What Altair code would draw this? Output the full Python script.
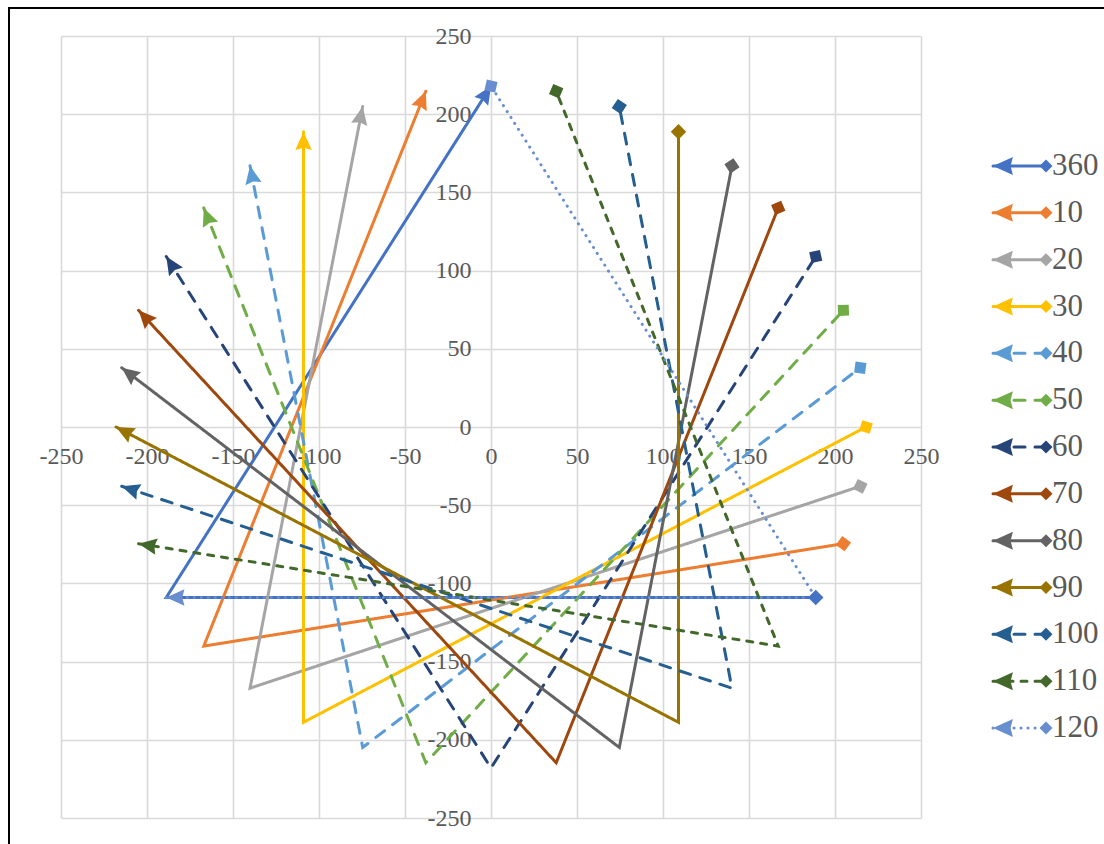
import math

import altair as alt
import pandas as pd

# Series names, colours and line styles
SERIES = ["360", "10", "20", "30", "40", "50", "60", "70", "80", "90", "100", "110", "120"]
COLORS = ["#4472C4", "#ED7D31", "#A5A5A5", "#FFC000", "#5B9BD5", "#70AD47", "#264478",
          "#9E480E", "#636363", "#997300", "#255E91", "#43682B", "#698ED0"]
STYLES = ["solid", "solid", "solid", "solid", "dash", "dash", "dash",
          "solid", "solid", "solid", "dash", "short", "dot"]

# Each series is an open triangle path: start (arrow) -> corner -> end (diamond)
PATH_X = [
    [0.0, -188.8, 188.8],
    [-37.9, -167.0, 204.9],
    [-74.6, -140.1, 214.7],
    [-109.0, -109.0, 218.0],
    [-140.1, -74.6, 214.7],
    [-167.0, -37.9, 204.9],
    [-188.8, 0.0, 188.8],
    [-204.9, 37.9, 167.0],
    [-214.7, 74.6, 140.1],
    [-218.0, 109.0, 109.0],
    [-214.7, 140.1, 74.6],
    [-204.9, 167.0, 37.9],
    [-188.8, 188.8, 0.0],
]
PATH_Y = [
    [218.0, -109.0, -109.0],
    [214.7, -140.1, -74.6],
    [204.9, -167.0, -37.9],
    [188.8, -188.8, 0.0],
    [167.0, -204.9, 37.9],
    [140.1, -214.7, 74.6],
    [109.0, -218.0, 109.0],
    [74.6, -214.7, 140.1],
    [37.9, -204.9, 167.0],
    [0.0, -188.8, 188.8],
    [-37.9, -167.0, 204.9],
    [-74.6, -140.1, 214.7],
    [-109.0, -109.0, 218.0],
]

TICKS = [-250, -200, -150, -100, -50, 0, 50, 100, 150, 200, 250]

W, H = 860, 782
PAD = {"left": 61, "top": 36, "right": 183, "bottom": 26}
SX = W / (TICKS[-1] - TICKS[0])
SY = H / (TICKS[-1] - TICKS[0])

LINE_W = 3
DASHES = {"solid": [1, 0], "dash": [11, 10], "short": [6, 8], "dot": [0.1, 6.9]}
DASH_RANGE = [DASHES[s] for s in STYLES]

# Arrowhead with its tip at the origin, pointing up (rotated by the angle channel)
ARROW = "M0,0L0.95,2.1L0,1.85L-0.95,2.1Z"
FONT = "Liberation Serif"
TEXT_COLOR = "#595959"


def heading(x0, y0, x1, y1):
    """Screen heading (clockwise from up, degrees) of the segment p0 -> p1."""
    return math.degrees(math.atan2((x1 - x0) * SX, (y1 - y0) * SY)) % 360


line_rows, arrow_rows, diamond_rows, legend_rows = [], [], [], []
for name, xs, ys in zip(SERIES, PATH_X, PATH_Y):
    for step, (x, y) in enumerate(zip(xs, ys)):
        line_rows.append({"series": name, "step": step, "x": x, "y": y})
    arrow_rows.append({"series": name, "x": xs[0], "y": ys[0],
                       "angle": heading(xs[1], ys[1], xs[0], ys[0])})
    diamond_rows.append({"series": name, "x": xs[2], "y": ys[2],
                         "angle": heading(xs[1], ys[1], xs[2], ys[2])})
    for lx in (0, 1):
        legend_rows.append({"series": name, "lx": lx})

lines_df = pd.DataFrame(line_rows)
arrows_df = pd.DataFrame(arrow_rows)
diamonds_df = pd.DataFrame(diamond_rows)
legend_df = pd.DataFrame(legend_rows)

color = alt.Color("series:N", scale=alt.Scale(domain=SERIES, range=COLORS), legend=None)
dash = alt.StrokeDash("series:N", scale=alt.Scale(domain=SERIES, range=DASH_RANGE), legend=None)

axis_common = dict(
    values=TICKS, grid=True, gridColor="#d9d9d9", gridWidth=1.6, domain=False,
    ticks=False, tickSize=0, labelFont=FONT, labelFontSize=24, labelColor=TEXT_COLOR,
    labelExpr="'' + datum.value", labelFlush=False, labelOverlap=False, title=None,
)
x_enc = alt.X("x:Q", scale=alt.Scale(domain=[-250, 250], nice=False),
              axis=alt.Axis(orient="bottom", offset=-H / 2, labelPadding=17, **axis_common))
y_enc = alt.Y("y:Q", scale=alt.Scale(domain=[-250, 250], nice=False),
              axis=alt.Axis(orient="left", offset=-W / 2, labelPadding=20, **axis_common))

lines = alt.Chart(lines_df).mark_line(
    strokeWidth=LINE_W, strokeCap="round", strokeJoin="miter"
).encode(x=x_enc, y=y_enc, color=color, strokeDash=dash, order=alt.Order("step:Q"))

arrows = alt.Chart(arrows_df).mark_point(
    shape=ARROW, filled=True, size=300, opacity=1, strokeWidth=0
).encode(x=x_enc, y=y_enc, color=color, angle=alt.Angle("angle:Q", scale=None))

diamonds = alt.Chart(diamonds_df).mark_point(
    shape="diamond", filled=True, size=240, opacity=1, strokeWidth=0
).encode(x=x_enc, y=y_enc, color=color, angle=alt.Angle("angle:Q", scale=None))

plot = alt.layer(lines, arrows, diamonds)

# Legend: one row per series, arrow on the left, diamond on the right, name after it
lx_enc = alt.X("lx:Q", scale=alt.Scale(domain=[0, 1], range=[932, 985]), axis=None)
ly_enc = alt.Y("series:N", scale=alt.Scale(type="point", domain=SERIES, range=[130, 692], padding=0),
               axis=None)

leg_lines = alt.Chart(legend_df).mark_line(
    strokeWidth=LINE_W, strokeCap="round"
).encode(x=lx_enc, y=ly_enc, color=color, strokeDash=dash, order=alt.Order("lx:Q"))

leg_arrows = alt.Chart(legend_df).transform_filter("datum.lx == 0").mark_point(
    shape=ARROW, filled=True, size=360, opacity=1, strokeWidth=0, angle=270
).encode(x=lx_enc, y=ly_enc, color=color)

leg_diamonds = alt.Chart(legend_df).transform_filter("datum.lx == 1").mark_point(
    shape="diamond", filled=True, size=170, opacity=1, strokeWidth=0
).encode(x=lx_enc, y=ly_enc, color=color)

leg_text = alt.Chart(legend_df).transform_filter("datum.lx == 1").mark_text(
    align="left", baseline="middle", dx=6, font=FONT, fontSize=31, color=TEXT_COLOR
).encode(x=lx_enc, y=ly_enc, text="series:N")

legend = alt.layer(leg_lines, leg_arrows, leg_diamonds, leg_text)

# Outer chart frame
frame = alt.Chart(alt.Data(values=[{"k": 1}])).mark_rect(
    fillOpacity=0, stroke="black", strokeWidth=2
).encode(x=alt.value(-52), y=alt.value(-28), x2=alt.value(1200), y2=alt.value(1000))

chart = alt.layer(plot, legend, frame).resolve_scale(
    x="independent", y="independent"
).properties(
    width=W, height=H, padding=PAD, autosize=alt.AutoSizeParams(type="none"),
    background="white",
).configure_view(strokeWidth=0)

chart.save("out.html", embed_options={"renderer": "svg", "actions": False})
